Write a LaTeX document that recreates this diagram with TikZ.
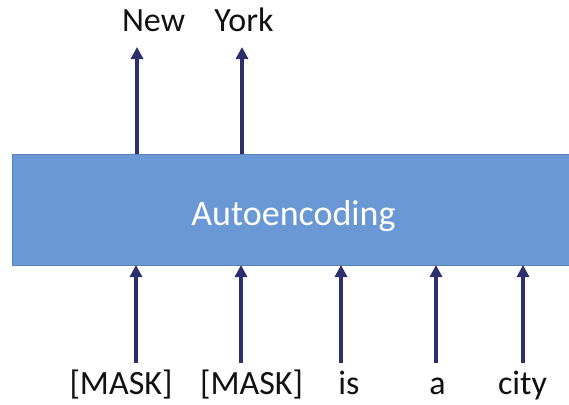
\documentclass[tikz,border=0pt]{standalone}
\usepackage{fontspec}
\setmainfont{Carlito}
\usetikzlibrary{arrows.meta}
\definecolor{boxfill}{HTML}{6A98D4}
\definecolor{boxedge}{HTML}{5A82B8}
\definecolor{arrownavy}{HTML}{2C2F6E}
\definecolor{wordink}{HTML}{111111}
\tikzset{
  word/.style={font=\fontsize{34}{40}\selectfont, text=wordink, inner sep=0pt, anchor=base},
  flow/.style={draw=arrownavy, line width=3.2pt, -{Triangle[length=12pt,width=12pt]}},
}
\begin{document}
\begin{tikzpicture}[x=1pt,y=-1pt]
  \useasboundingbox (0,0) rectangle (569,404);
  % encoder block, running off the right edge
  \fill[boxfill] (12,154) rectangle (575,265);
  \draw[boxedge, line width=1pt] (575,154) -- (12,154) -- (12,265) -- (575,265);
  \node[font=\fontsize{36}{42}\selectfont, text=white, inner sep=0pt, anchor=base] (enc) at (293.5,225) {Autoencoding};
  % output tokens
  \node[word] (o1) at (153.5,32) {New};
  \node[word] (o2) at (244,32) {York};
  % input tokens
  \node[word] (i1) at (121,394) {[MASK]};
  \node[word] (i2) at (251.5,394) {[MASK]};
  \node[word] (i3) at (349,394) {is};
  \node[word] (i4) at (437.5,394) {a};
  \node[word] (i5) at (522.5,394) {city};
  % connector ends
  \coordinate (t1a) at (137,154); \coordinate (t1b) at (137,47);
  \coordinate (t2a) at (242,154); \coordinate (t2b) at (242,47);
  \coordinate (b1a) at (136,363); \coordinate (b1b) at (136,265);
  \coordinate (b2a) at (241,363); \coordinate (b2b) at (241,265);
  \coordinate (b3a) at (341,363); \coordinate (b3b) at (341,265);
  \coordinate (b4a) at (436,363); \coordinate (b4b) at (436,265);
  \coordinate (b5a) at (523,363); \coordinate (b5b) at (523,265);
  \foreach \s/\e in {t1a/t1b,t2a/t2b,b1a/b1b,b2a/b2b,b3a/b3b,b4a/b4b,b5a/b5b}
    \draw[flow] (\s) -- (\e);
\end{tikzpicture}
\end{document}
